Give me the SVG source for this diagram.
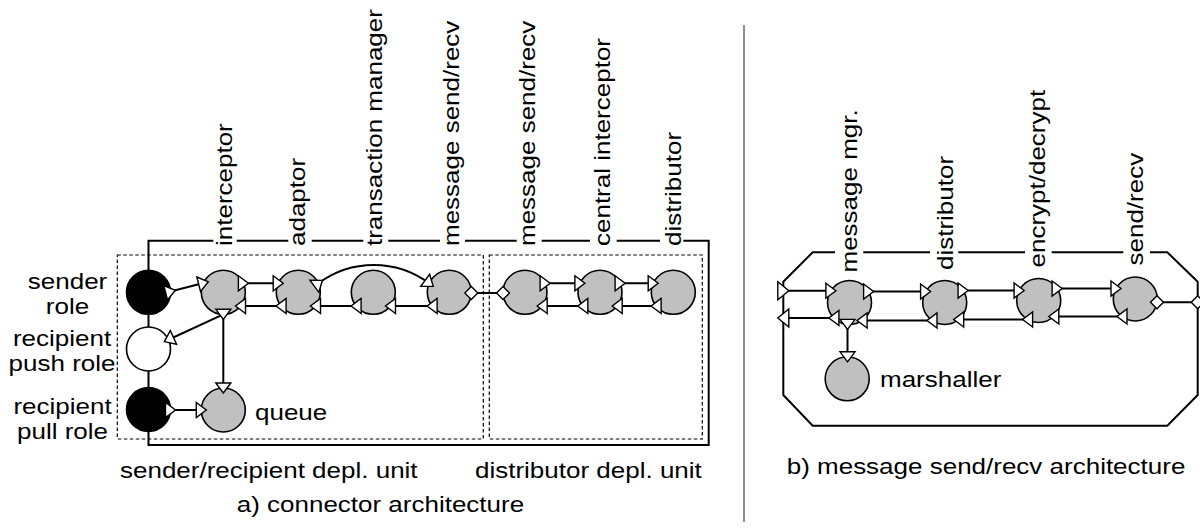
<svg xmlns="http://www.w3.org/2000/svg" width="1200" height="531" viewBox="0 0 1200 531">
  <style>
    text { font-family: "Liberation Sans", Arial, Helvetica, sans-serif; font-size: 22.5px; fill: #000; }
    .mid { text-anchor: middle; }
    .comp { fill: #c0c0c0; stroke: #000; stroke-width: 1.6; }
    .role-on { fill: #000; stroke: #000; stroke-width: 1.6; }
    .role-off { fill: #fff; stroke: #000; stroke-width: 1.6; }
    .frame { fill: none; stroke: #000; stroke-width: 2; }
    .unit { fill: none; stroke: #000; stroke-width: 1.2; stroke-dasharray: 3.5 2.5; }
    .conn { fill: none; stroke: #000; stroke-width: 2; }
    .both { marker-start: url(#port); marker-end: url(#port); }
    .end { marker-end: url(#port); }
    .dia { marker-start: url(#diamond); marker-end: url(#diamond); }
    .sep { stroke: #444; stroke-width: 1.2; }
  </style>
  <defs>
    <marker id="port" viewBox="0 0 12 17" refX="6" refY="8.5" markerWidth="12" markerHeight="17" markerUnits="userSpaceOnUse" orient="auto" overflow="visible">
      <path d="M1,1 L11,8.5 L1,16 Z" fill="#fff" stroke="#000" stroke-width="1.4"/>
    </marker>
    <marker id="portL" viewBox="0 0 13 20" refX="6.5" refY="10" markerWidth="13" markerHeight="20" markerUnits="userSpaceOnUse" orient="auto" overflow="visible">
      <path d="M1,1 L12,10 L1,19 Z" fill="#fff" stroke="#000" stroke-width="1.4"/>
    </marker>
    <marker id="diamond" viewBox="0 0 15 15" refX="7.5" refY="7.5" markerWidth="15" markerHeight="15" markerUnits="userSpaceOnUse" orient="auto" overflow="visible">
      <path d="M1,7.5 L7.5,1 L14,7.5 L7.5,14 Z" fill="#fff" stroke="#000" stroke-width="1.4"/>
    </marker>
  </defs>

  <!-- a) connector architecture: connector boundary and deployment units -->
  <g id="connector-frame">
    <path class="frame" d="M683.3,240.7 H708.7 V445 H148.5 V240.7 H213.3 M236.7,240.7 H288.3 M311.7,240.7 H363.3 M388.3,240.7 H440 M465,240.7 H516.7 M541.7,240.7 H590 M616.7,240.7 H660"/>
  </g>
  <g id="sender-recipient-unit">
    <rect class="unit" x="117.3" y="255" width="366" height="184"/>
    <text transform="translate(120 478) scale(1.156 1)">sender/recipient depl. unit</text>
  </g>
  <g id="distributor-unit">
    <rect class="unit" x="489.3" y="255" width="213" height="184"/>
    <text transform="translate(475 478) scale(1.156 1)">distributor depl. unit</text>
  </g>

  <!-- a) roles -->
  <g id="sender-role">
    <circle class="role-on" cx="148.5" cy="292.3" r="22"/>
    <text class="mid" transform="translate(67.5 288.5) scale(1.156 1)"><tspan x="0" y="0">sender</tspan><tspan x="0" y="25.5">role</tspan></text>
  </g>
  <g id="recipient-push-role">
    <circle class="role-off" cx="148.5" cy="349" r="22"/>
    <text class="mid" transform="translate(62 345.5) scale(1.156 1)"><tspan x="0" y="0">recipient</tspan><tspan x="0" y="25.5">push role</tspan></text>
  </g>
  <g id="recipient-pull-role">
    <circle class="role-on" cx="148.5" cy="409.5" r="22"/>
    <text class="mid" transform="translate(62.5 414) scale(1.156 1)"><tspan x="0" y="0">recipient</tspan><tspan x="0" y="25.5">pull role</tspan></text>
  </g>

  <!-- a) components -->
  <g id="interceptor">
    <circle class="comp" cx="223.3" cy="292.3" r="22"/>
    <text transform="translate(232 246) rotate(-90) scale(1.156 1)">interceptor</text>
  </g>
  <g id="adaptor">
    <circle class="comp" cx="298.3" cy="292.3" r="22"/>
    <text transform="translate(305.3 246) rotate(-90) scale(1.156 1)">adaptor</text>
  </g>
  <g id="transaction-manager">
    <circle class="comp" cx="373.3" cy="292.3" r="22"/>
    <text transform="translate(382 246) rotate(-90) scale(1.156 1)">transaction manager</text>
  </g>
  <g id="message-send-recv-a">
    <circle class="comp" cx="449.3" cy="292.3" r="22"/>
    <text transform="translate(458.6 246) rotate(-90) scale(1.156 1)">message send/recv</text>
  </g>
  <g id="message-send-recv-b">
    <circle class="comp" cx="525" cy="292.3" r="22"/>
    <text transform="translate(535.3 246) rotate(-90) scale(1.156 1)">message send/recv</text>
  </g>
  <g id="central-interceptor">
    <circle class="comp" cx="600" cy="292.3" r="22"/>
    <text transform="translate(610.3 246) rotate(-90) scale(1.156 1)">central interceptor</text>
  </g>
  <g id="distributor-a">
    <circle class="comp" cx="673.3" cy="292.3" r="22"/>
    <text transform="translate(680.5 246) rotate(-90) scale(1.156 1)">distributor</text>
  </g>
  <g id="queue">
    <circle class="comp" cx="223.3" cy="410" r="22"/>
    <text transform="translate(255 420) scale(1.156 1)">queue</text>
  </g>

  <text transform="translate(236.7 511.7) scale(1.156 1)">a) connector architecture</text>

  <!-- a) connectors -->
  <g id="connectors-a">
    <path class="conn both" d="M170.5,291.5 L203.5,283"/>
    <path class="conn both" d="M243.4,283.3 H278.2"/>
    <path class="conn both" d="M281.1,306 H240.5"/>
    <path class="conn both" d="M356.1,306 H315.5"/>
    <path class="conn both" d="M432.1,306 H390.5"/>
    <path class="conn both" d="M318.4,283.3 A93,93 0 0 1 429.2,283.3"/>
    <path class="conn dia" d="M471.3,293 H503"/>
    <path class="conn both" d="M545.1,283.3 H579.9"/>
    <path class="conn both" d="M582.8,306 H542.2"/>
    <path class="conn both" d="M620.1,283.3 H653.2"/>
    <path class="conn both" d="M656.1,306 H617.2"/>
    <path class="conn end" d="M223.3,314.3 L168.9,339.5"/>
    <path class="conn both" d="M223.3,314.3 V388"/>
    <path class="conn both" d="M170.5,410 H201.3"/>
  </g>

  <!-- divider between the two architectures -->
  <line class="sep" x1="744" y1="25" x2="744" y2="522"/>

  <!-- b) message send/recv architecture -->
  <g id="send-recv-frame">
    <path class="frame" d="M1150,252.3 H1167.3 L1197.7,281.7 V395 L1167.3,425.7 H812.7 L783.3,395 V281.7 L812.7,252.3 H835 M863.3,252.3 H930 M958.3,252.3 H1025 M1051.7,252.3 H1123.3"/>
  </g>
  <g id="message-mgr">
    <circle class="comp" cx="849.5" cy="302.5" r="22"/>
    <text transform="translate(857 272.5) rotate(-90) scale(1.156 1)">message mgr.</text>
  </g>
  <g id="distributor-b">
    <circle class="comp" cx="944.7" cy="302.5" r="22"/>
    <text transform="translate(953 270) rotate(-90) scale(1.156 1)">distributor</text>
  </g>
  <g id="encrypt-decrypt">
    <circle class="comp" cx="1038.7" cy="300.5" r="22"/>
    <text transform="translate(1045.3 267.5) rotate(-90) scale(1.156 1)">encrypt/decrypt</text>
  </g>
  <g id="send-recv">
    <circle class="comp" cx="1135.3" cy="299" r="22"/>
    <text transform="translate(1143 265.5) rotate(-90) scale(1.156 1)">send/recv</text>
  </g>
  <g id="marshaller">
    <circle class="comp" cx="847.2" cy="378.8" r="22"/>
    <text transform="translate(880 386.7) scale(1.156 1)">marshaller</text>
  </g>

  <text transform="translate(786.7 474) scale(1.156 1)">b) message send/recv architecture</text>

  <!-- b) connectors -->
  <g id="connectors-b">
    <path class="conn" style="marker-start:url(#portL);marker-end:url(#port)" d="M783.3,290.7 H830.9"/>
    <path class="conn" style="marker-start:url(#port);marker-end:url(#portL)" d="M833.9,318 H783.3"/>
    <path class="conn both" d="M868.6,291.5 H925.6"/>
    <path class="conn both" d="M932,320.5 H862.1"/>
    <path class="conn both" d="M963.1,290.5 H1019.1"/>
    <path class="conn both" d="M1027.6,319.5 H958.7"/>
    <path class="conn both" d="M1057.1,288.5 H1116"/>
    <path class="conn both" d="M1122,316.5 H1053.8"/>
    <path class="conn dia" d="M1157,302.3 H1197.7"/>
    <path class="conn both" d="M847.5,324.4 V356.8"/>
  </g>
</svg>
